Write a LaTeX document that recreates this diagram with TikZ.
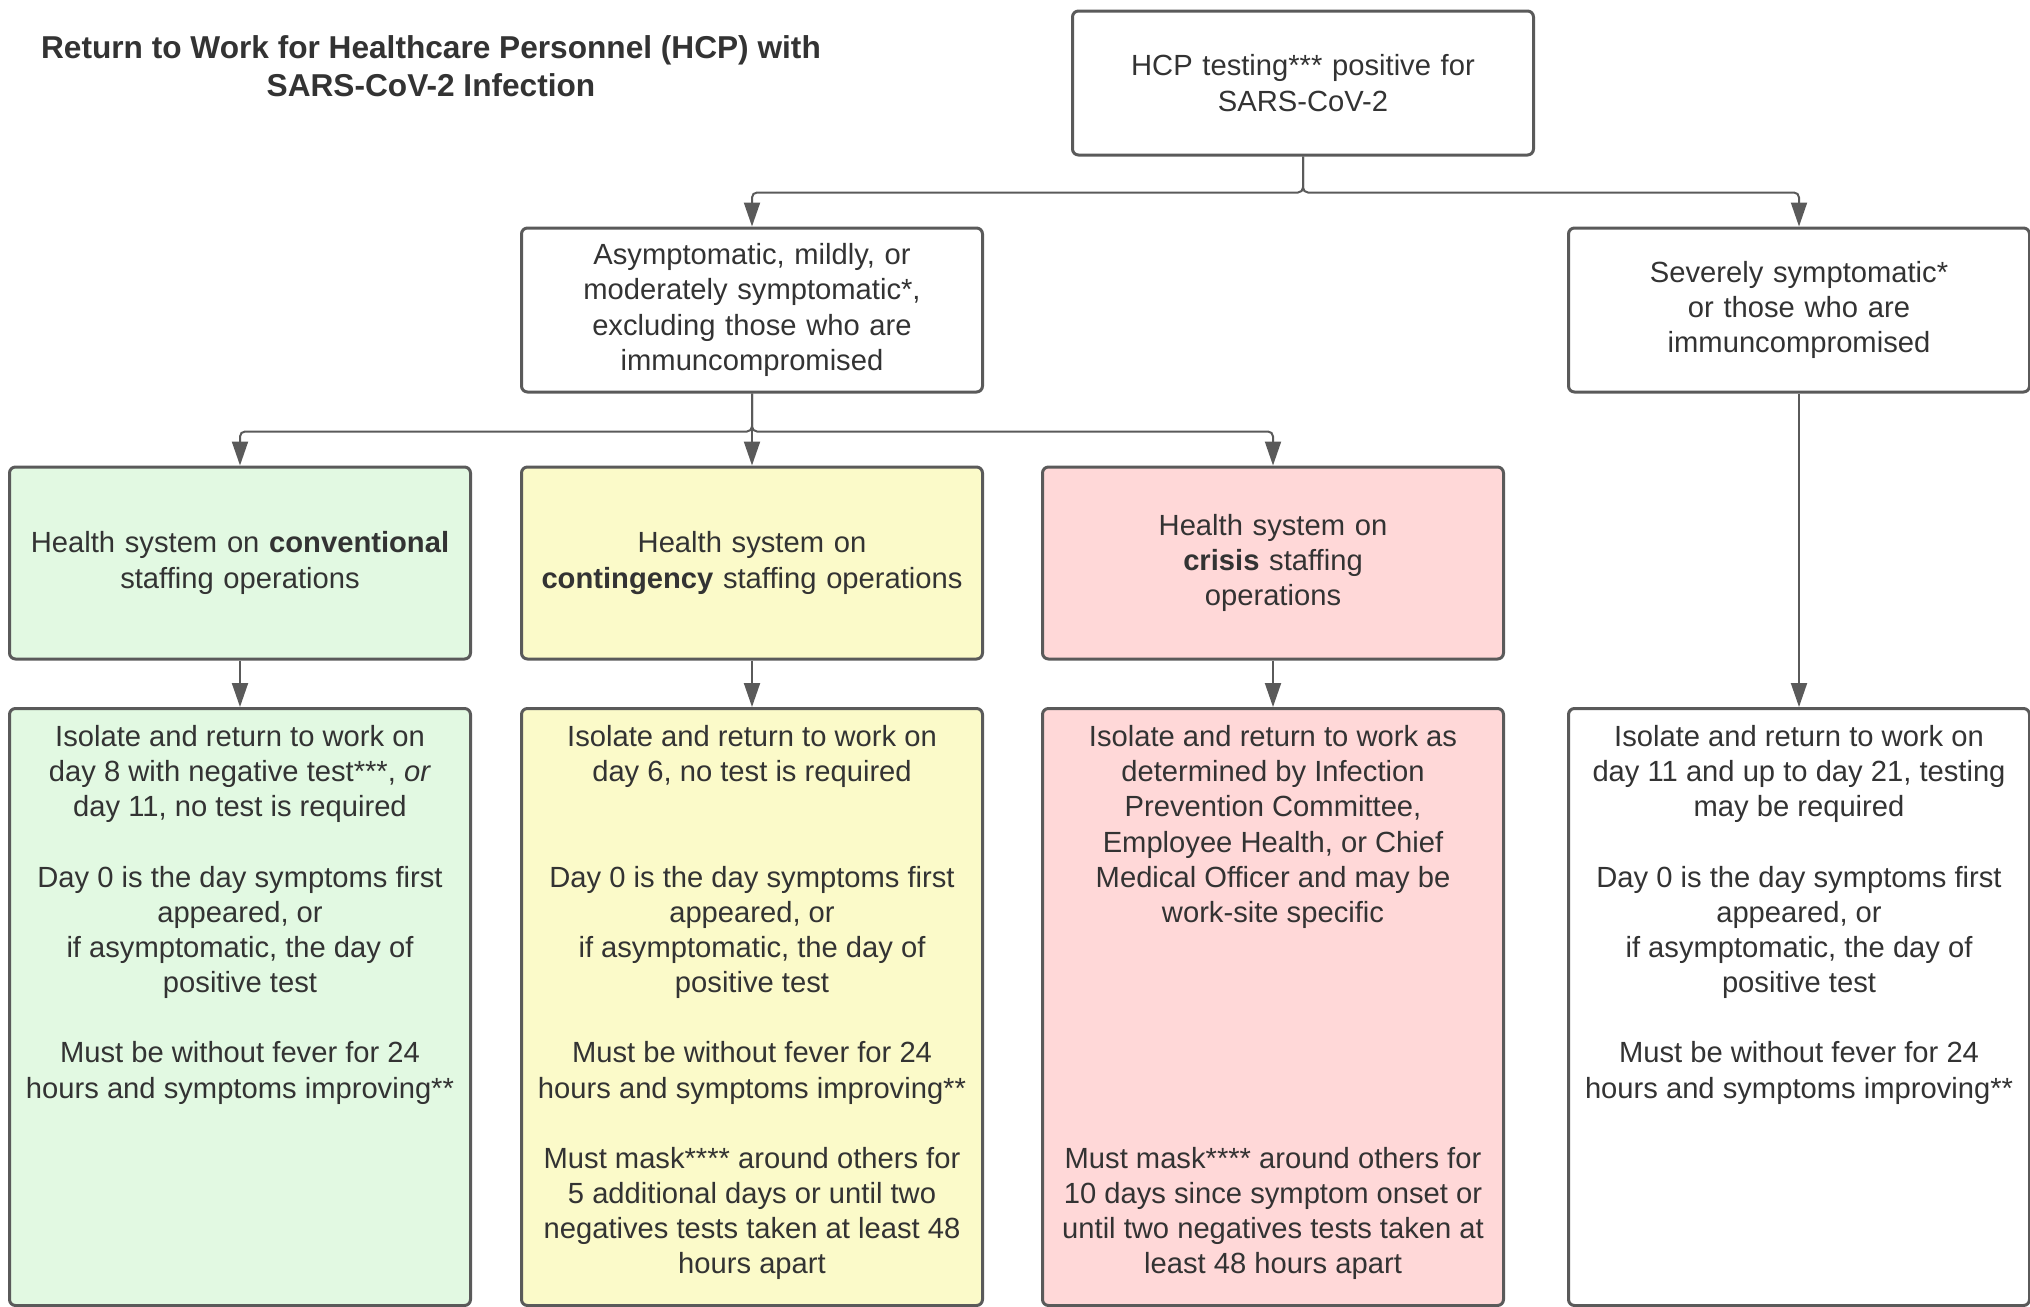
\documentclass[tikz,border=0pt]{standalone}
\usepackage{fontspec}
\setmainfont{Liberation Sans}
\usetikzlibrary{arrows.meta}
\definecolor{ink}{HTML}{333333}
\definecolor{edge}{HTML}{5A5A5A}
\definecolor{convfill}{HTML}{E2F9E2}
\definecolor{contfill}{HTML}{FBFAC9}
\definecolor{crisfill}{HTML}{FFD8D8}

\begin{document}
\begin{tikzpicture}[x=0.1mm, y=-0.1mm,
  every node/.style={text=ink, font=\fontsize{8.3}{10}\selectfont},
  box/.style={draw=edge, line width=0.3mm, rounded corners=0.6mm, fill=white,
    minimum width=46.1mm, inner xsep=0.5mm, text width=45mm, align=center},
  body/.style={draw=edge, line width=0.3mm, rounded corners=0.6mm, fill=white,
    anchor=north, inner xsep=0.55mm, inner ysep=1.7mm,
    execute at begin node={\begin{minipage}[t][56.3mm][t]{45mm}\centering},
    execute at end node={\end{minipage}}},
  arr/.style={draw=edge, line width=0.2mm, rounded corners=0.5mm,
    -{Triangle[length=2.4mm,width=1.6mm]}}]
\useasboundingbox (0,0) rectangle (2030,1306);

\node[font=\bfseries\fontsize{9}{10.8}\selectfont, align=center] (title) at (431,66)
  {Return to Work for Healthcare Personnel (HCP) with\\SARS-CoV-2 Infection};

% top and second row
\node[box, minimum height=14.4mm] (test) at (1303,83) {HCP testing*** positive for\\SARS-CoV-2\\[0.8mm]};
\node[box, minimum height=16.4mm] (mild) at (752,310)
  {Asymptomatic, mildly, or\\moderately symptomatic*,\\excluding those who are\\immuncompromised};
\node[box, minimum height=16.4mm] (severe) at (1799,310)
  {Severely symptomatic*\\or those who are\\immuncompromised};

% staffing levels
\node[box, fill=convfill, minimum height=19.2mm] (conv) at (240,563)
  {Health system on \textbf{conventional}\\staffing operations};
\node[box, fill=contfill, minimum height=19.2mm] (cont) at (752,563)
  {Health system on\\\textbf{contingency} staffing operations};
\node[box, fill=crisfill, minimum height=19.2mm] (crisis) at (1273,563)
  {Health system on\\\textbf{crisis} staffing\\operations};

% return to work rules
\node[body, fill=convfill] (convrtw) at (240,707)
  {Isolate and return to work on\\day 8 with negative test***, \textit{or}\\day 11, no test is required\\[\baselineskip]
   Day 0 is the day symptoms first\\appeared, or\\if asymptomatic, the day of\\positive test\\[\baselineskip]
   Must be without fever for 24\\hours and symptoms improving**};
\node[body, fill=contfill] (contrtw) at (752,707)
  {Isolate and return to work on\\day 6, no test is required\\[2\baselineskip]
   Day 0 is the day symptoms first\\appeared, or\\if asymptomatic, the day of\\positive test\\[\baselineskip]
   Must be without fever for 24\\hours and symptoms improving**\\[\baselineskip]
   Must mask**** around others for\\5 additional days or until two\\negatives tests taken at least 48\\hours apart};
\node[body, fill=crisfill] (crisrtw) at (1273,707)
  {Isolate and return to work as\\determined by Infection\\Prevention Committee,\\Employee Health, or Chief\\Medical Officer and may be\\work-site specific\\[6\baselineskip]
   Must mask**** around others for\\10 days since symptom onset or\\until two negatives tests taken at\\least 48 hours apart};
\node[body] (sevrtw) at (1799,707)
  {Isolate and return to work on\\day 11 and up to day 21, testing\\may be required\\[\baselineskip]
   Day 0 is the day symptoms first\\appeared, or\\if asymptomatic, the day of\\positive test\\[\baselineskip]
   Must be without fever for 24\\hours and symptoms improving**};

% connectors
\draw[arr] (test.south) -- ++(0,36) -| (mild.north);
\draw[arr] (test.south) -- ++(0,36) -| (severe.north);
\draw[arr] (mild.south) -- ++(0,38) -| (conv.north);
\draw[arr] (mild.south) -- (cont.north);
\draw[arr] (mild.south) -- ++(0,38) -| (crisis.north);
\draw[arr] (conv) -- (convrtw);
\draw[arr] (cont) -- (contrtw);
\draw[arr] (crisis) -- (crisrtw);
\draw[arr] (severe) -- (sevrtw);
\end{tikzpicture}
\end{document}
